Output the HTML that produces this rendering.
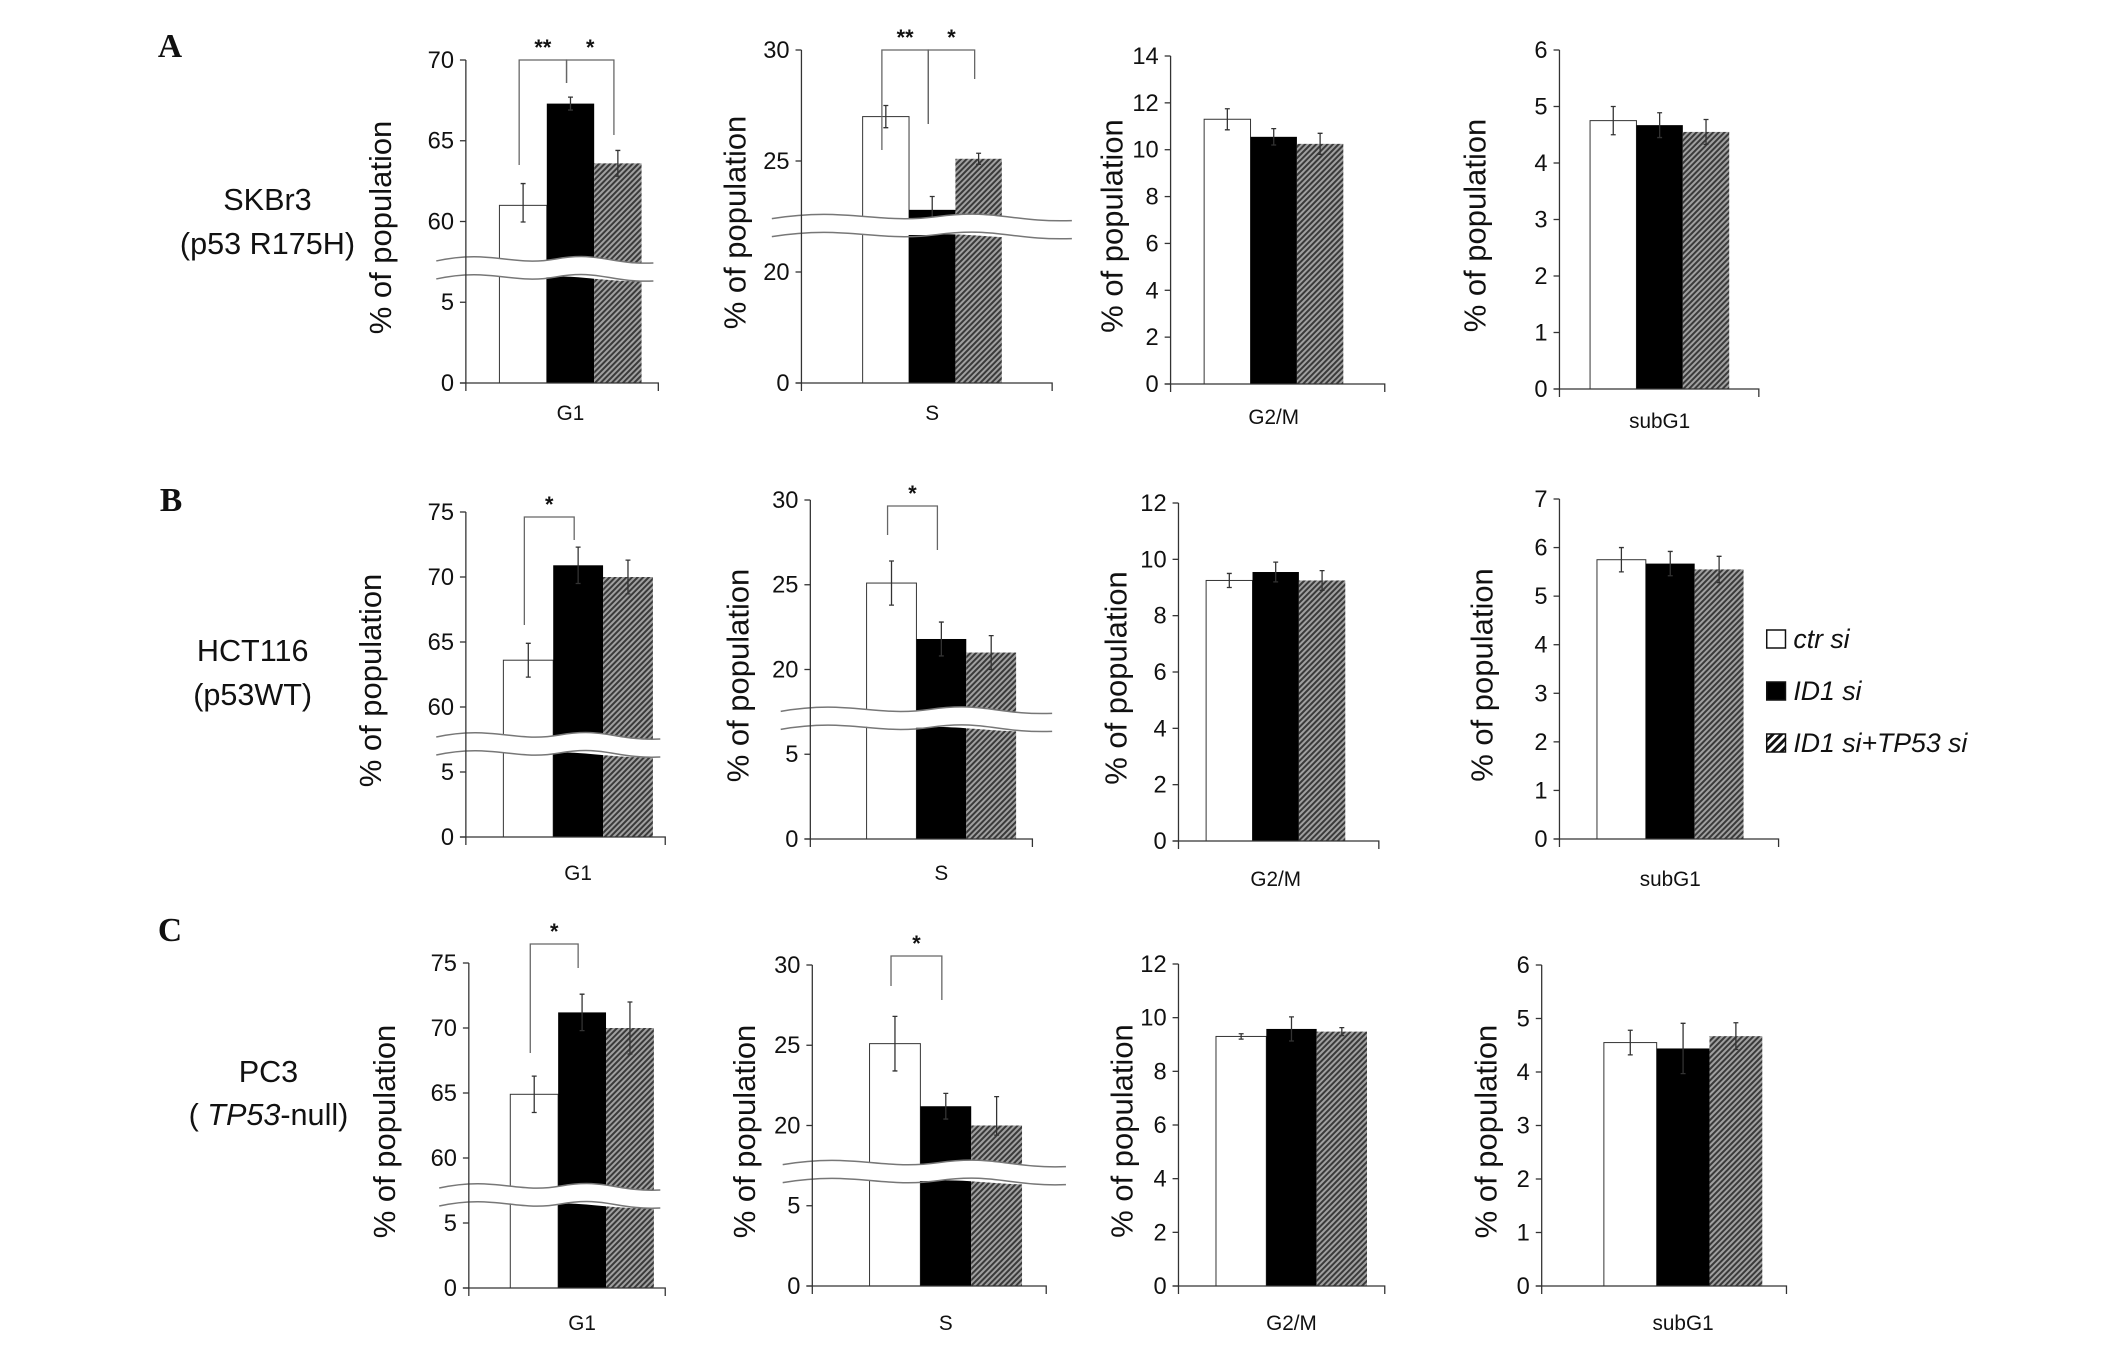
<!DOCTYPE html>
<html><head><meta charset="utf-8"><style>
html,body{margin:0;padding:0;background:#fff;}
svg{display:block;font-family:"Liberation Sans",Arial,sans-serif;}
</style></head><body>
<svg id="fig" width="2126" height="1345" viewBox="0 0 2126 1345" xmlns="http://www.w3.org/2000/svg">
<defs>
<pattern id="hatch" patternUnits="userSpaceOnUse" width="4" height="4" patternTransform="rotate(45)">
<rect width="4" height="4" fill="#a0a0a0"/><rect width="2" height="4" fill="#3a3a3a"/>
</pattern>
<pattern id="hatchL" patternUnits="userSpaceOnUse" width="6" height="6" patternTransform="rotate(45)">
<rect width="6" height="6" fill="#fff"/><rect width="3" height="6" fill="#111"/>
</pattern>
</defs>
<g id="root" transform="scale(0.987,1)"></g>
</svg>
<script>
// ---- data ----
const categories = ["G1","S","G2/M","subG1","G1","S","G2/M","subG1","G1","S","G2/M","subG1"];
const tickLabels = [
 [0,5,60,65,70],[0,20,25,30],[0,2,4,6,8,10,12,14],[0,1,2,3,4,5,6],
 [0,5,60,65,70,75],[0,5,20,25,30],[0,2,4,6,8,10,12],[0,1,2,3,4,5,6,7],
 [0,5,60,65,70,75],[0,5,20,25,30],[0,2,4,6,8,10,12],[0,1,2,3,4,5,6]
];
const ctrValues  = [61.0,27.0,11.3,4.75, 63.6,25.1,9.25,5.75, 64.9,25.1,9.3,4.55];
const id1Values  = [67.3,22.8,10.55,4.67, 70.9,21.8,9.55,5.67, 71.2,21.2,9.58,4.44];
const bothValues = [63.6,25.1,10.25,4.55, 70.0,21.0,9.25,5.55, 70.0,20.0,9.48,4.67];
const ctrErr  = [1.35,0.5,0.45,0.25, 1.3,1.3,0.25,0.25, 1.4,1.7,0.1,0.23];
const id1Err  = [0.4,0.6,0.35,0.22, 1.4,1.0,0.35,0.25, 1.4,0.8,0.45,0.47];
const bothErr = [0.8,0.25,0.45,0.22, 1.3,1.0,0.35,0.27, 2.0,1.8,0.15,0.25];

// ---- layout (pixels) ----
const L = [
 {ax:472,top:60,bot:383,xe:667,b0:506,bw:48,tx:388,ly:420},
 {ax:812,top:50,bot:383,xe:1066,b0:874,bw:47,tx:747,ly:420},
 {ax:1186,top:56,bot:384,xe:1403,b0:1220,bw:47,tx:1129,ly:424},
 {ax:1580,top:50,bot:389,xe:1782,b0:1611,bw:47,tx:1497,ly:428},
 {ax:472,top:512,bot:837,xe:674,b0:510,bw:50.5,tx:378,ly:880},
 {ax:821,top:500,bot:839,xe:1046,b0:878,bw:50.5,tx:750,ly:880},
 {ax:1194,top:503,bot:841,xe:1397,b0:1222,bw:47,tx:1133,ly:886},
 {ax:1580,top:499,bot:839,xe:1802,b0:1618,bw:49.5,tx:1504,ly:886},
 {ax:475,top:963,bot:1288,xe:674,b0:517,bw:48.5,tx:392,ly:1330},
 {ax:823,top:965,bot:1286,xe:1060,b0:881,bw:51.5,tx:757,ly:1330},
 {ax:1194,top:964,bot:1286,xe:1403,b0:1232,bw:51,tx:1139,ly:1330},
 {ax:1562,top:965,bot:1286,xe:1810,b0:1625,bw:53.5,tx:1508,ly:1330}
];
// brackets: [panel, barA, barB, topY, legAY, legBY, label]
const brackets = [
 [0,0,1,60,165,83,"**"],[0,1,2,60,83,135,"*"],
 [1,0,1,50,150,124,"**"],[1,1,2,50,124,79,"*"],
 [4,0,1,517,625,540,"*"],[5,0,1,506,535,550,"*"],
 [8,0,1,944,1053,968,"*"],[9,0,1,956,986,1000,"*"]
];

const NS="http://www.w3.org/2000/svg";
const root=document.getElementById('root');
function mk(tag,attrs,parent){const e=document.createElementNS(NS,tag);for(const k in attrs)e.setAttribute(k,attrs[k]);(parent||root).appendChild(e);return e;}

function yScale(p,v){
  const t=tickLabels[p],l=L[p],n=t.length-1,sp=(l.bot-l.top)/n;
  let i=0; while(i<n-1 && v>t[i+1]) i++;
  return l.bot-(i+(v-t[i])/(t[i+1]-t[i]))*sp;
}

for(let p=0;p<12;p++){
  const l=L[p],t=tickLabels[p];
  const g=mk('g',{});
  
  
  const fills=['#fff','#000','url(#hatch)'];
  const vals=[ctrValues[p],id1Values[p],bothValues[p]];
  const errs=[ctrErr[p],id1Err[p],bothErr[p]];
  const names=['ctr-si','id1-si','id1-tp53-si'];
  for(let b=0;b<3;b++){
    const x=l.b0+b*l.bw, y=yScale(p,vals[b]);
    const r=mk('rect',{x:x,y:y,width:l.bw,height:l.bot-y,fill:fills[b],stroke:b==0?'#333':'none','stroke-width':1},g);
    
    
    const cx=x+l.bw/2, y1=yScale(p,vals[b]+errs[b]), y2=yScale(p,vals[b]-errs[b]);
    const eb=mk('path',{d:`M${cx},${y1}V${y2}M${cx-2.5},${y1}H${cx+2.5}M${cx-2.5},${y2}H${cx+2.5}`,stroke:'#333','stroke-width':1.3,fill:'none'},g);
    
    
  }
  // break band
  if(t.length>2 && (t[2]-t[1])!==(t[1]-t[0])){
    const n=t.length-1, yA=l.bot-(l.bot-l.top)/n, yB=l.bot-2*(l.bot-l.top)/n;
    const yc=yA-(yA-yB)*0.4, x0=l.ax-30, x1=l.xe+(p%4==1?20:-5), w=x1-x0, h=9;
    const wave=(y)=>`M${x0},${y} C${x0+w*0.25},${y-12} ${x0+w*0.35},${y+6} ${x0+w*0.55},${y-2} S${x0+w*0.8},${y+4} ${x1},${y+2}`;
    const band=mk('path',{d:wave(yc-h)+` L${x1},${yc+h+2} C${x0+w*0.8},${yc+h+4} ${x0+w*0.65},${yc+h-4} ${x0+w*0.55},${yc+h-2} S${x0+w*0.25},${yc+h-6} ${x0},${yc+h} Z`,fill:'#fff',stroke:'none'},g);
    
    
    mk('path',{d:wave(yc-h),fill:'none',stroke:'#777','stroke-width':1.5},g);
    mk('path',{d:wave(yc+h),fill:'none',stroke:'#777','stroke-width':1.5},g);
  }
  // axes
  const ya=mk('line',{x1:l.ax,y1:l.top,x2:l.ax,y2:l.bot+8,stroke:'#333','stroke-width':1.3},g);
  
  
  const xa=mk('path',{d:`M${l.ax-6},${l.bot}H${l.xe}V${l.bot+8}`,fill:'none',stroke:'#333','stroke-width':1.3},g);
  
  
  t.forEach(v=>{
    const y=yScale(p,v);
    mk('line',{x1:l.ax-6,y1:y,x2:l.ax,y2:y,stroke:'#333','stroke-width':1.3},g);
    const tx=mk('text',{x:l.ax-12,y:y+8,'text-anchor':'end','font-size':24,fill:'#111'},g);
    tx.textContent=v;
    
    
  });
  const cl=mk('text',{x:l.b0+1.5*l.bw,y:l.ly,'text-anchor':'middle','font-size':21,fill:'#111'},g);
  cl.textContent=categories[p];
  
  
  const yc=(l.top+l.bot)/2+6;
  const yt=mk('text',{x:l.tx,y:yc,'text-anchor':'middle','font-size':31,fill:'#111',transform:`rotate(-90 ${l.tx} ${yc})`,'dominant-baseline':'middle'},g);
  yt.textContent='% of population';
  
  
}
brackets.forEach(br=>{
  const [p,a,b,ty,la,lb,lab]=br,l=L[p];
  const xa=l.b0+a*l.bw+l.bw/2-4, xb=l.b0+b*l.bw+l.bw/2-4;
  const pth=mk('path',{d:`M${xa},${la}V${ty}H${xb}V${lb}`,fill:'none',stroke:'#666','stroke-width':1.3});
  
  
  const s=mk('text',{x:(xa+xb)/2,y:ty-5,'text-anchor':'middle','font-size':22,'font-weight':'bold',fill:'#111'});
  s.textContent=lab;
  
  
});
// row labels
const rowLetters=[["A",160,57],["B",162,511],["C",160,941]];
rowLetters.forEach(r=>{
  const e=mk('text',{x:r[1],y:r[2],'font-family':'Liberation Serif,serif','font-weight':'bold','font-size':34,fill:'#111'});
  e.textContent=r[0];
  
  
});
function cellLabel(x,y,txt,name){const e=mk('text',{x:x,y:y,'text-anchor':'middle','font-size':31,fill:'#111'});e.innerHTML=txt;}
cellLabel(271,210,'SKBr3','cell-line-a');
cellLabel(271,254,'(p53 R175H)','cell-line-a-sub');
cellLabel(256,661,'HCT116','cell-line-b');
cellLabel(256,705,'(p53WT)','cell-line-b-sub');
cellLabel(272,1082,'PC3','cell-line-c');
cellLabel(272,1125,'( <tspan font-style="italic">TP53</tspan>-null)','cell-line-c-sub');
// legend
const legendNames=['ctr si','ID1 si','ID1 si+TP53 si'];
const legendFills=['#fff','#000','url(#hatchL)'];
legendNames.forEach((n,i)=>{
  const y=630+i*52;
  const g=mk('g',{});
  
  
  mk('rect',{x:1790,y:y,width:19,height:18,fill:legendFills[i],stroke:'#111','stroke-width':1.5},g);
  const t=mk('text',{x:1817,y:y+18,'font-size':27,'font-style':'italic',fill:'#111'},g);
  t.textContent=n;
});
</script>
</body></html>
